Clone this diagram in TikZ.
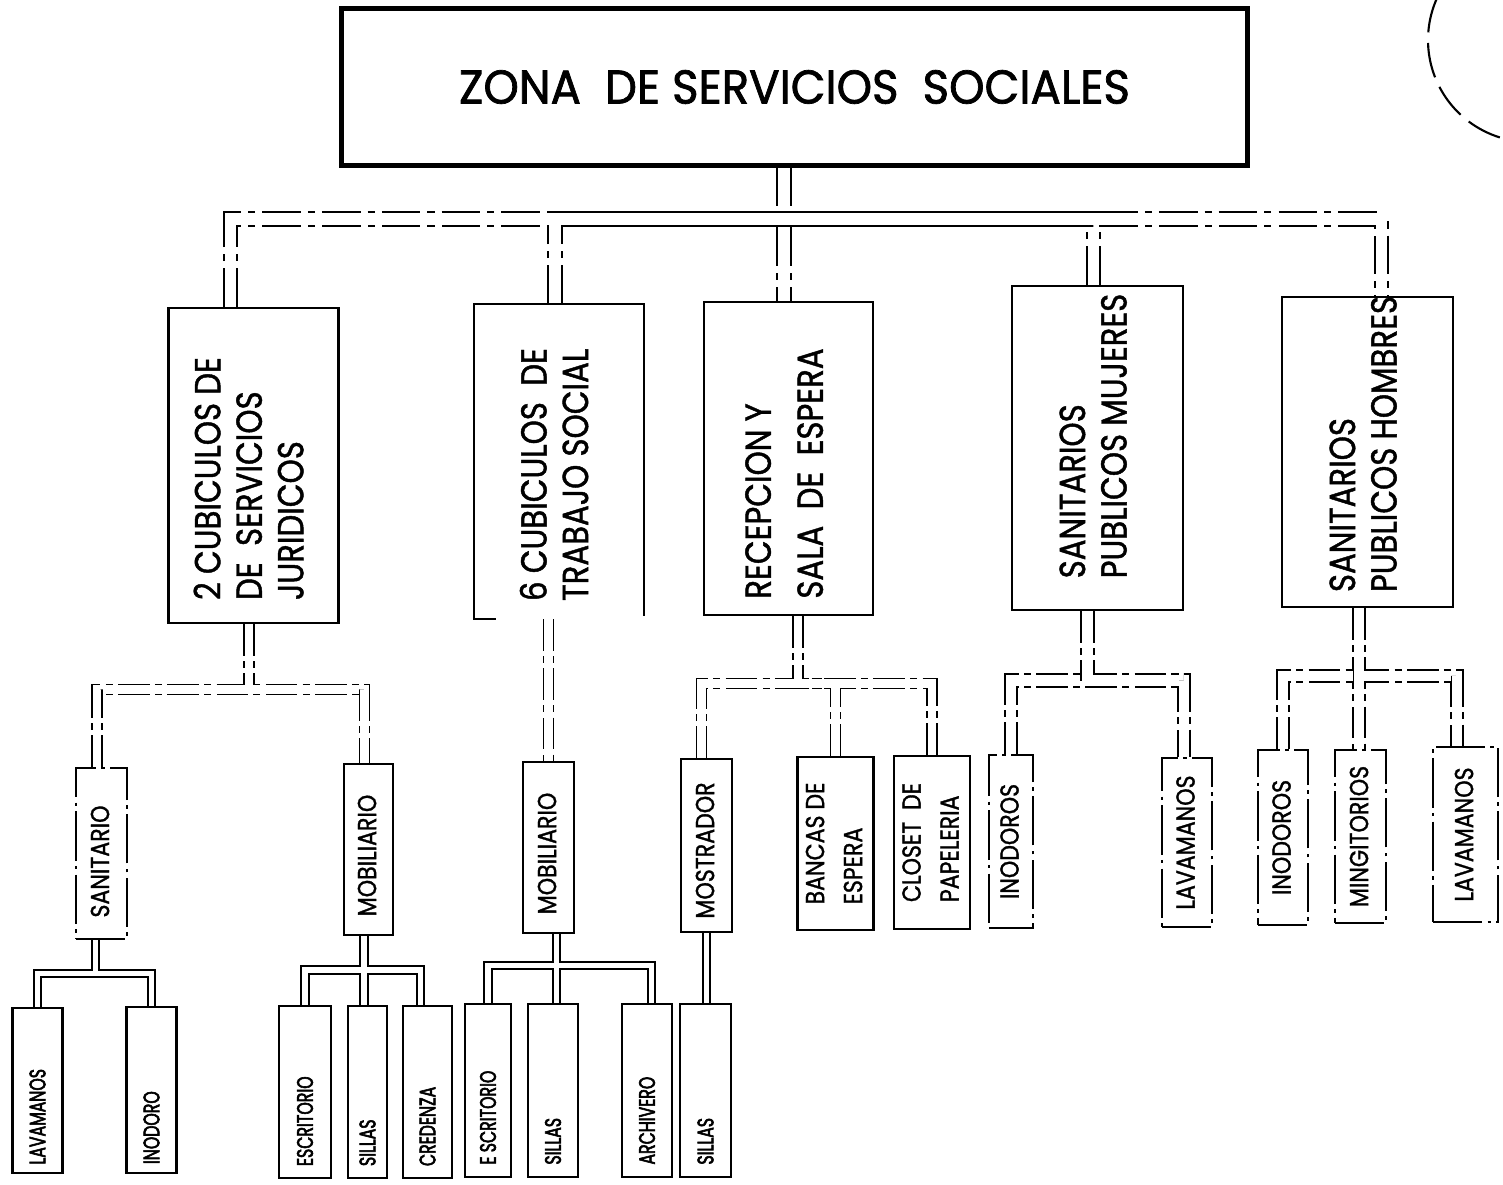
\documentclass[tikz,border=0pt]{standalone}
\usepackage{fontspec}
\setmainfont{Poppins}[FakeStretch=0.85, FakeBold=1.2]
\newfontfamily\zonafont{Poppins}[FakeStretch=0.95, FakeBold=1.5]
\newfontfamily\piefont{Poppins}[FakeStretch=0.70, FakeBold=2.5]
\usetikzlibrary{positioning, backgrounds}
\tikzstyle{zn}=[%
      rectangle, draw=black, line width=1.4pt, inner sep=0pt,
      minimum width=9.05cm, minimum height=1.56cm
]
\tikzstyle{ar}=[%
      rectangle, draw=black, line width=0.6pt, inner sep=0pt,
      minimum width=1.7cm, minimum height=3.15cm, font=\fontsize{10.3}{11.8}\selectfont
]
\tikzstyle{eq}=[%
      rectangle, draw=black, line width=0.6pt, inner sep=0pt,
      minimum width=0.5cm, minimum height=1.72cm, font=\fontsize{7.4}{10.8}\selectfont
]
\tikzstyle{eqr}=[eq, dash pattern=on 14pt off 1.5pt on 1pt off 1.5pt]
\tikzstyle{mb}=[%
      rectangle, draw=black, line width=0.6pt, inner sep=0pt,
      minimum width=0.5cm, minimum height=1.72cm, font=\piefont\fontsize{6.4}{7.5}\selectfont
]
\tikzstyle{tb}=[draw=black, line width=0.55pt, double=white, double distance=1.6pt, line cap=butt]
\tikzstyle{tbr}=[tb, double distance=2.3pt, dash pattern=on 9pt off 1.5pt on 2pt off 1.5pt]
\tikzstyle{tbm}=[tb, double distance=3.3pt, dash pattern=on 11pt off 2pt on 2pt off 2pt]
% texto vertical; el argumento opcional lo baja
\newcommand{\vtxt}[2][0cm]{\rotatebox{90}{\hspace{-#1}\begin{tabular}{@{}l@{}}#2\end{tabular}\hspace{#1}}}
\newcommand{\vpie}[1]{\rotatebox{90}{\makebox[1.48cm][l]{#1}}}

\begin{document}
\begin{tikzpicture}[x=0.01cm, y=-0.01cm]
    \useasboundingbox (0,0) rectangle (1503,1185);

    % zona
    \node[zn] (zona) at (794.5,87) {\zonafont\fontsize{13.5}{16}\selectfont ZONA\ \ DE SERVICIOS\ \ SOCIALES};

    % areas
    \node[ar] (b1) at (253.5,465.5) {\vtxt[0.13cm]{2 CUBICULOS DE\\DE\ \ SERVICIOS\\JURIDICOS}};
    \node[ar, draw=none, minimum width=1.68cm, minimum height=3.13cm] (b2) at (559,461.5) {\vtxt[0.13cm]{6 CUBICULOS\ \ DE\\TRABAJO SOCIAL}};
    \draw[line width=0.6pt] ([xshift=0.22cm]b2.south west) -- (b2.south west) -- (b2.north west)
          -- (b2.north east) -- ([yshift=0.03cm]b2.south east);
    \node[ar, minimum width=1.69cm, minimum height=3.13cm] (b3) at (788.5,458.5) {\vtxt[0.15cm]{RECEPCION Y\\[3pt]SALA\ \ DE\ \ ESPERA}};
    \node[ar, minimum width=1.71cm, minimum height=3.24cm] (b4) at (1097.5,448) {\vtxt[-0.12cm]{SANITARIOS\\PUBLICOS MUJERES}};
    \node[ar, minimum width=1.71cm, minimum height=3.10cm] (b5) at (1367.5,452) {\vtxt[-0.08cm]{SANITARIOS\\PUBLICOS HOMBRES}};

    % equipos
    \node[eqr, minimum width=0.51cm, minimum height=1.71cm] (san) at (101.5,853.5) {\vtxt[0.08cm]{SANITARIO}};
    \node[eq, minimum width=0.49cm, minimum height=1.71cm] (mob1) at (368.5,849.5) {\vtxt[0.06cm]{MOBILIARIO}};
    \node[eq, minimum width=0.51cm, minimum height=1.71cm] (mob2) at (548.5,847.5) {\vtxt[0.06cm]{MOBILIARIO}};
    \node[eq, minimum width=0.51cm, minimum height=1.73cm] (most) at (706.5,845.5) {\vtxt[0.05cm]{MOSTRADOR}};
    \node[eq, minimum width=0.69cm, minimum height=1.73cm] (banc) at (835.5,843.5) {\vtxt{BANCAS DE\\ESPERA}};
    \node[eq, minimum width=0.70cm, minimum height=1.73cm] (clos) at (932,842.5) {\vtxt{CLOSET\ \ DE\\PAPELERIA}};
    \node[eqr, minimum width=0.44cm, minimum height=1.73cm] (inom) at (1011,841.5) {\vtxt{INODOROS}};
    \node[eqr, minimum width=0.50cm, minimum height=1.69cm] (lavm) at (1187,842.5) {\vtxt{LAVAMANOS}};
    \node[eqr, minimum width=0.50cm, minimum height=1.75cm] (inoh) at (1283,837.5) {\vtxt{INODOROS}};
    \node[eqr, minimum width=0.51cm, minimum height=1.73cm] (ming) at (1360.5,836.5) {\vtxt{MINGITORIOS}};
    \node[eqr, minimum width=0.65cm, minimum height=1.75cm] (lavh) at (1465.5,834.5) {\vtxt{LAVAMANOS}};

    % muebles
    \node[mb, minimum height=1.65cm] (lav1) at (37.5,1090.5) {\vpie{LAVAMANOS}};
    \node[mb, minimum height=1.66cm] (ino1) at (151.5,1090) {\vpie{INODORO}};
    \node[mb, minimum width=0.52cm] (esc1) at (305,1092) {\vpie{ESCRITORIO}};
    \node[mb, minimum width=0.39cm] (sil1) at (367.5,1092) {\vpie{SILLAS}};
    \node[mb, minimum width=0.49cm] (cre1) at (427.5,1092) {\vpie{CREDENZA}};
    \node[mb, minimum width=0.46cm, minimum height=1.73cm] (esc2) at (488,1090.5) {\vpie{E SCRITORIO}};
    \node[mb, minimum height=1.73cm] (sil2) at (553,1090.5) {\vpie{SILLAS}};
    \node[mb, minimum height=1.73cm] (arc2) at (647,1090.5) {\vpie{ARCHIVERO}};
    \node[mb, minimum width=0.51cm, minimum height=1.73cm] (sil3) at (705.5,1090.5) {\vpie{SILLAS}};

    % uniones
    \coordinate (eje) at (784,219);
    \coordinate (ja) at (249,689.5);
    \coordinate (jc) at (798,683.5);
    \coordinate (jd) at (1087.5,680.5);
    \coordinate (je) at (1359,676);
    \coordinate (jf) at (95.5,973.5);
    \coordinate (jg) at (364,970);
    \coordinate (jh) at (556.5,965.5);

    \begin{scope}[on background layer]
    \draw[tbm] (zona.south -| eje) -- (b3.north -| eje)
          ([xshift=-0.23cm]b1.north) |- (eje) -| ([xshift=0.14cm]b5.north)
          ([xshift=-0.04cm]b2.north) |- (eje)
          ([xshift=-0.04cm]b4.north) |- (eje);
    \draw[tbr] (b1.south -| ja) -- (ja)
          ([xshift=-0.045cm]san.north) |- (ja) -| ([xshift=-0.04cm]mob1.north);
    \draw[tbr] (b2.south -| mob2.north) -- (mob2.north);
    \draw[tbr] (b3.south -| jc) -- (jc)
          ([xshift=-0.05cm]most.north) |- (jc) -| (clos.north)
          (banc.north) |- (jc);
    \draw[tbr, double distance=3pt] (b4.south -| jd) -- (jd)
          (inom.north) |- (jd) -| ([xshift=-0.03cm]lavm.north);
    \draw[tbr, double distance=3pt] (b5.south -| je) -- (ming.north -| je)
          (inoh.north) |- (je) -| ([xshift=-0.085cm]lavh.north);
    \draw[tb] (san.south -| jf) -- (jf)
          (lav1.north) |- (jf) -| (ino1.north);
    \draw[tb] (mob1.south -| jg) -- (sil1.north -| jg)
          (esc1.north) |- (jg) -| ([xshift=-0.07cm]cre1.north);
    \draw[tb] (mob2.south -| jh) -- (sil2.north -| jh)
          (esc2.north) |- (jh) -| ([xshift=0.045cm]arc2.north);
    \draw[tb] (most.south) -- (most.south |- sil3.north);
    \end{scope}

    % sello
    \draw[line width=0.6pt, dash pattern=on 10pt off 3pt] (1530,40) ++(204:102) arc[start angle=204, end angle=105, radius=102];
  \end{tikzpicture}
\end{document}
